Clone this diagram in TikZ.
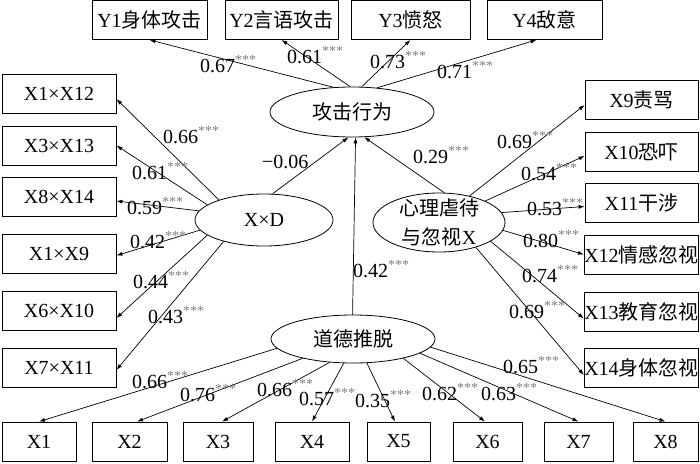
\documentclass[tikz,border=0pt]{standalone}
\usepackage{fontspec}
\setmainfont{Liberation Serif}
\newfontfamily\cjk{Noto Sans CJK SC}
\usepackage{tikz}
\usetikzlibrary{shapes.geometric,arrows.meta}
\newcommand{\zh}[1]{{\cjk #1}}
\newcommand{\sig}{\textsuperscript{\textcolor{gray}{***}}}

\begin{document}
\begin{tikzpicture}[x=1pt,y=-1pt,
  box/.style={draw,line width=0.8pt,minimum height=39pt,inner sep=0pt,
              font=\fontsize{20}{24}\selectfont},
  % ellipses keep their given size: text is small against them
  lat/.style={draw,ellipse,line width=0.8pt,inner sep=0pt,align=center,
              font=\fontsize{20}{29}\selectfont},
  coef/.style={anchor=base west,inner sep=0pt,font=\fontsize{20}{24}\selectfont},
  fl/.style={-{Latex[length=6pt,width=4pt]},line width=0.7pt},
  ]
  \useasboundingbox (0,0) rectangle (700,463);

  % latent variables
  \node[lat,minimum width=164pt,minimum height=50pt] (aggr) at (352,112) {\zh{攻击行为}};
  \node[lat,minimum width=138pt,minimum height=52pt] (xd) at (264,220) {X×D};
  \node[lat,minimum width=132pt,minimum height=59pt,inner ysep=-4pt] (psy) at (439,222.5)
    {\zh{心理虐待}\\\zh{与忽视}X};
  \node[lat,minimum width=164pt,minimum height=48pt] (moral) at (353,339) {\zh{道德推脱}};

  % aggression indicators
  \node[box,minimum width=115pt] (y1) at (149.5,20) {Y1\zh{身体攻击}};
  \node[box,minimum width=113pt] (y2) at (281.5,20) {Y2\zh{言语攻击}};
  \node[box,minimum width=119pt] (y3) at (410.5,20) {Y3\zh{愤怒}};
  \node[box,minimum width=115pt] (y4) at (544.5,20) {Y4\zh{敌意}};

  % interaction indicators
  \node[box,minimum width=114pt] (xd1) at (59,94) {X1×X12};
  \node[box,minimum width=114pt] (xd2) at (59,145.5) {X3×X13};
  \node[box,minimum width=114pt] (xd3) at (59,197) {X8×X14};
  \node[box,minimum width=114pt] (xd4) at (59,253.5) {X1×X9};
  \node[box,minimum width=114pt] (xd5) at (59,311) {X6×X10};
  \node[box,minimum width=114pt] (xd6) at (59,368) {X7×X11};

  % abuse indicators
  \node[box,minimum width=113pt] (ab1) at (641.5,100) {X9\zh{责骂}};
  \node[box,minimum width=113pt] (ab2) at (641.5,152) {X10\zh{恐吓}};
  \node[box,minimum width=113pt] (ab3) at (641.5,202.5) {X11\zh{干涉}};
  \node[box,minimum width=113pt] (ab4) at (641.5,254.5) {X12\zh{情感忽视}};
  \node[box,minimum width=113pt] (ab5) at (641.5,311.5) {X13\zh{教育忽视}};
  \node[box,minimum width=113pt] (ab6) at (641.5,368) {X14\zh{身体忽视}};

  % moral disengagement indicators
  \node[box,minimum width=74pt] (md1) at (39,441.5) {X1};
  \node[box,minimum width=75pt] (md2) at (129.5,441.5) {X2};
  \node[box,minimum width=70pt] (md3) at (218,441.5) {X3};
  \node[box,minimum width=74pt] (md4) at (312,441.5) {X4};
  \node[box,minimum width=63pt] (md5) at (398.5,441.5) {X5};
  \node[box,minimum width=69pt] (md6) at (487.5,441.5) {X6};
  \node[box,minimum width=69pt] (md7) at (578.5,441.5) {X7};
  \node[box,minimum width=65pt] (md8) at (665.5,441.5) {X8};

  % paths
  \draw[fl] (aggr.127) -- (y1.south);
  \draw[fl] (aggr.94) -- (y2.south);
  \draw[fl] (aggr.69) -- (y3.south);
  \draw[fl] (aggr.44) -- ([xshift=-8pt]y4.south);

  \draw[fl] (xd.72) -- (aggr.262);
  \draw[fl] (moral.91) -- (aggr.278);
  \draw[fl] (psy.80) -- (aggr.296);

  \draw[fl] (xd.156) -- (xd1.355);
  \draw[fl] (xd.165) -- (xd2.east);
  \draw[fl] (xd.172) -- (xd3.356);
  \draw[fl] (xd.189) -- (xd4.358);
  \draw[fl] (xd.195) -- (xd5.353);
  \draw[fl] (xd.208) -- (xd6.358);

  \draw[fl] (psy.41) -- (ab1.185);
  \draw[fl] (psy.25) -- (ab2.184);
  \draw[fl] (psy.9) -- (ab3.184);
  \draw[fl] (psy.353) -- (ab4.west);
  \draw[fl] (psy.340) -- (ab5.187);
  \draw[fl] (psy.326) -- (ab6.187);

  \draw[fl] (moral.187) -- (md1.north);
  \draw[fl] (moral.201) -- ([xshift=7.5pt]md2.north);
  \draw[fl] (moral.225) -- ([xshift=4pt]md3.north);
  \draw[fl] (moral.249) -- (md4.north);
  \draw[fl] (moral.300) -- ([xshift=-3.5pt]md5.north);
  \draw[fl] (moral.339) -- ([xshift=-2.5pt]md6.north);
  \draw[fl] (moral.348) -- (md7.north);
  \draw[fl] (moral.354) -- (md8.north);

  % loadings
  \node[coef] (cy1) at (200,72) {0.67\sig};
  \node[coef] (cy2) at (287,63) {0.61\sig};
  \node[coef] (cy3) at (370,68) {0.73\sig};
  \node[coef] (cy4) at (437,78) {0.71\sig};

  \node[coef] (cxd) at (262,168) {−0.06};
  \node[coef] (cmd) at (353,277) {0.42\sig};
  \node[coef] (cab) at (413,163) {0.29\sig};

  \node[coef] (cxd1) at (163,143) {0.66\sig};
  \node[coef] (cxd2) at (132,179) {0.61\sig};
  \node[coef] (cxd3) at (127,214) {0.59\sig};
  \node[coef] (cxd4) at (130,248) {0.42\sig};
  \node[coef] (cxd5) at (133,288) {0.44\sig};
  \node[coef] (cxd6) at (148,323) {0.43\sig};

  \node[coef] (cab1) at (497,148) {0.69\sig};
  \node[coef] (cab2) at (521,180) {0.54\sig};
  \node[coef] (cab3) at (527,215) {0.53\sig};
  \node[coef] (cab4) at (523,247) {0.80\sig};
  \node[coef] (cab5) at (522,282) {0.74\sig};
  \node[coef] (cab6) at (509,318) {0.69\sig};

  \node[coef] (cmd1) at (132,388) {0.66\sig};
  \node[coef] (cmd2) at (180,401) {0.76\sig};
  \node[coef] (cmd3) at (257,396) {0.66\sig};
  \node[coef] (cmd4) at (299,405) {0.57\sig};
  \node[coef] (cmd5) at (355,407) {0.35\sig};
  \node[coef] (cmd6) at (422,400) {0.62\sig};
  \node[coef] (cmd7) at (481,400) {0.63\sig};
  \node[coef] (cmd8) at (503,373) {0.65\sig};
\end{tikzpicture}
\end{document}
